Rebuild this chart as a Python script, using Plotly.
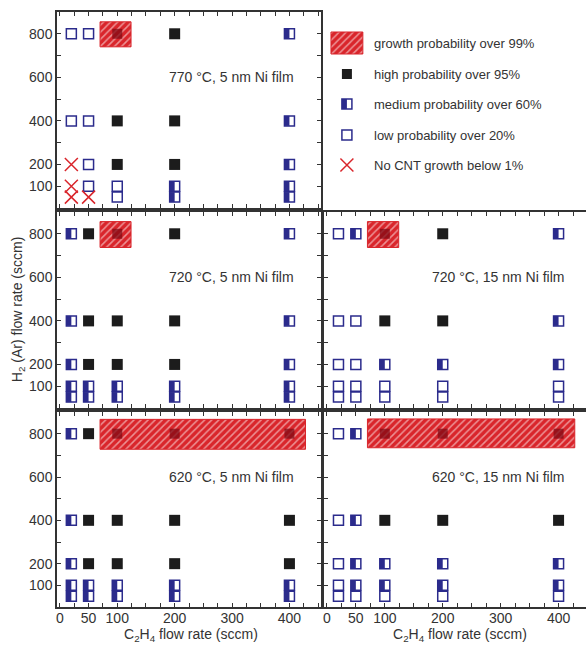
import plotly.graph_objects as go

# ---------------- data ----------------
X_C2H4 = [20, 50, 100, 200, 400]          # C2H4 flow rate (sccm), grid columns
Y_H2 = [800, 400, 200, 100, 50]           # H2 (Ar) flow rate (sccm), grid rows

# outcome codes: rows follow Y_H2, columns follow X_C2H4
# G = growth >99% (hatched), H = high >95%, M = medium >60%, L = low >20%, N = no CNT growth <1%
grid_770_5nm = ["LLGHM", "LLHHM", "NLHHM", "NLLMM", "NNLMM"]
grid_720_5nm = ["MHGHM", "MHHHM", "MHHHM", "MMMMM", "MMMMM"]
grid_720_15nm = ["LMGHM", "LLHHM", "LLMMM", "LLLLL", "LLLLL"]
grid_620_5nm = ["MHGGG", "MHHHH", "MHHHH", "MMMMM", "MMMMM"]
grid_620_15nm = ["LMGGG", "LMHHH", "LMMMM", "LMMMM", "LLLLL"]

# hatched ">99 %" regions: [x0, x1, y0, y1] in sccm
region_770_5nm = [70, 124, 740, 855]
region_720_5nm = [70, 124, 737, 856]
region_720_15nm = [70, 124, 737, 856]
region_620_5nm = [70, 428, 728, 866]
region_620_15nm = [70, 428, 735, 868]

panel_labels = ["770 °C, 5 nm Ni film", "720 °C, 5 nm Ni film", "720 °C, 15 nm Ni film",
                "620 °C, 5 nm Ni film", "620 °C, 15 nm Ni film"]
legend_labels = ["growth probability over 99%", "high probability over 95%",
                 "medium probability over 60%", "low probability over 20%",
                 "No CNT growth below 1%"]
x_tick_vals = list(range(0, 451, 25))
x_tick_show = [0, 50, 100, 200, 300, 400]
y_tick_vals = list(range(0, 901, 100))
y_tick_show = [100, 200, 400, 600, 800]

# ---------------- styling / layout ----------------
W, H = 593, 645        # page window is 586 wide; the right-most frame edge falls just outside, as in the reference
ML, MR, MT, MB = 57, 0, 12, 38
PW, PH = W - ML - MR, H - MT - MB
FONT = "Liberation Sans, Arial, sans-serif"
TXT = "#333333"
NAVY = "#2b2b8c"
BLACK = "#1c1c1c"
RED = "#d9252b"
DARKRED = "rgba(130,10,20,0.75)"
MS = 10


def px_x(p):
    return (p - ML) / PW


def px_y(p):
    return (H - MB - p) / PH


panels = [
    dict(grid=grid_770_5nm, region=region_770_5nm, xd=[57, 322], yd=[12, 208], xr=[-5, 455], yl=True, xl=False),
    dict(grid=grid_720_5nm, region=region_720_5nm, xd=[57, 322], yd=[212, 408], xr=[-5, 455], yl=True, xl=False),
    dict(grid=grid_720_15nm, region=region_720_15nm, xd=[325, 593], yd=[212, 408], xr=[-5, 456], yl=False, xl=False),
    dict(grid=grid_620_5nm, region=region_620_5nm, xd=[57, 322], yd=[412, 607], xr=[-5, 455], yl=True, xl=True),
    dict(grid=grid_620_15nm, region=region_620_15nm, xd=[325, 593], yd=[412, 607], xr=[-5, 456], yl=False, xl=True),
]
YR = [0, 900]

fig = go.Figure()
shapes = []
annotations = []
layout = {}

for i, p in enumerate(panels, start=1):
    xa, ya = f"x{i}" if i > 1 else "x", f"y{i}" if i > 1 else "y"
    xr = p["xr"]
    # growth region (hatched)
    x0, x1, y0, y1 = p["region"]
    fig.add_trace(go.Bar(
        x=[(x0 + x1) / 2], y=[y1 - y0], base=[y0], width=[x1 - x0],
        marker=dict(color=RED, line=dict(color=RED, width=1),
                    pattern=dict(shape="/", fgcolor="white", size=5, solidity=0.3)),
        xaxis=xa, yaxis=ya, showlegend=False, hoverinfo="skip"))
    cats = {c: ([], []) for c in "GHMLN"}
    for r, yv in enumerate(Y_H2):
        for c, xv in enumerate(X_C2H4):
            code = p["grid"][r][c]
            cats[code][0].append(xv)
            cats[code][1].append(yv)
    fig.add_trace(go.Scatter(x=cats["G"][0], y=cats["G"][1], mode="markers", xaxis=xa, yaxis=ya,
                             marker=dict(symbol="square", size=MS, color=DARKRED), showlegend=False))
    fig.add_trace(go.Scatter(x=cats["H"][0], y=cats["H"][1], mode="markers", xaxis=xa, yaxis=ya,
                             marker=dict(symbol="square", size=MS + 1, color=BLACK), showlegend=False))
    fig.add_trace(go.Scatter(x=cats["M"][0] + cats["L"][0], y=cats["M"][1] + cats["L"][1], mode="markers",
                             xaxis=xa, yaxis=ya,
                             marker=dict(symbol="square-open", size=MS, color=NAVY, line=dict(width=1.5)),
                             showlegend=False))
    fig.add_trace(go.Scatter(x=cats["N"][0], y=cats["N"][1], mode="markers", xaxis=xa, yaxis=ya,
                             marker=dict(symbol="x-thin", size=MS + 3, color=RED, line=dict(color=RED, width=1.5)),
                             showlegend=False))
    # left-half fill of the medium markers
    hw = (MS / 2) * (xr[1] - xr[0]) / (p["xd"][1] - p["xd"][0])
    hh = (MS / 2) * (YR[1] - YR[0]) / (p["yd"][1] - p["yd"][0])
    for xv, yv in zip(*cats["M"]):
        shapes.append(dict(type="rect", xref=xa, yref=ya, x0=xv - hw, x1=xv, y0=yv - hh, y1=yv + hh,
                           fillcolor=NAVY, line=dict(width=0), layer="above"))
    annotations.append(dict(text=panel_labels[i - 1], xref=xa, yref=ya, x=412, y=600,
                            xanchor="right", yanchor="middle", showarrow=False,
                            font=dict(family=FONT, size=14, color=TXT)))
    axcommon = dict(showline=True, linecolor=TXT, linewidth=1.5, mirror="allticks", ticks="inside",
                    ticklen=4, tickwidth=1, tickcolor=TXT, showgrid=False, zeroline=False,
                    tickfont=dict(family=FONT, size=14, color=TXT))
    layout["xaxis" if i == 1 else f"xaxis{i}"] = dict(
        axcommon, domain=[px_x(p["xd"][0]), px_x(p["xd"][1])], range=xr, anchor=ya,
        tickmode="array", tickvals=x_tick_vals,
        ticktext=[str(v) if v in x_tick_show else "" for v in x_tick_vals],
        showticklabels=p["xl"], ticklabelstandoff=-3)
    layout["yaxis" if i == 1 else f"yaxis{i}"] = dict(
        axcommon, domain=[px_y(p["yd"][1]), px_y(p["yd"][0])], range=YR, anchor=xa,
        tickmode="array", tickvals=y_tick_vals,
        ticktext=[str(v) if v in y_tick_show else "" for v in y_tick_vals],
        showticklabels=p["yl"])

# ---------------- manual legend (top-right cell) ----------------
LX = [325, 593]
LY = [208, 12]
layout["xaxis6"] = dict(domain=[px_x(LX[0]), px_x(LX[1])], range=LX, visible=False, anchor="y6")
layout["yaxis6"] = dict(domain=[px_y(LY[0]), px_y(LY[1])], range=LY, visible=False, anchor="x6")
leg_rows = [43, 74, 104, 135, 165]
sym_x = 348
fig.add_trace(go.Bar(x=[sym_x], y=[22], base=[leg_rows[0] - 11], width=[32],
                     marker=dict(color=RED, line=dict(color=RED, width=1),
                                 pattern=dict(shape="/", fgcolor="white", size=5, solidity=0.3)),
                     xaxis="x6", yaxis="y6", showlegend=False, hoverinfo="skip"))
fig.add_trace(go.Scatter(x=[sym_x], y=[leg_rows[1]], mode="markers", xaxis="x6", yaxis="y6",
                         marker=dict(symbol="square", size=MS, color=BLACK), showlegend=False))
fig.add_trace(go.Scatter(x=[sym_x, sym_x], y=[leg_rows[2], leg_rows[3]], mode="markers", xaxis="x6", yaxis="y6",
                         marker=dict(symbol="square-open", size=MS, color=NAVY, line=dict(width=1.5)),
                         showlegend=False))
shapes.append(dict(type="rect", xref="x6", yref="y6", x0=sym_x - 5, x1=sym_x, y0=leg_rows[2] - 5,
                   y1=leg_rows[2] + 5, fillcolor=NAVY, line=dict(width=0), layer="above"))
fig.add_trace(go.Scatter(x=[sym_x], y=[leg_rows[4]], mode="markers", xaxis="x6", yaxis="y6",
                         marker=dict(symbol="x-thin", size=MS + 3, color=RED, line=dict(color=RED, width=1.5)),
                         showlegend=False))
for lbl, yv in zip(legend_labels, leg_rows):
    annotations.append(dict(text=lbl, xref="x6", yref="y6", x=373, y=yv, xanchor="left", yanchor="middle",
                            showarrow=False, font=dict(family=FONT, size=13, color=TXT)))

# axis titles
annotations.append(dict(text="H<sub>2</sub> (Ar) flow rate (sccm)", xref="paper", yref="paper",
                        x=px_x(18), y=px_y(310), textangle=-90, showarrow=False,
                        xanchor="center", yanchor="middle", font=dict(family=FONT, size=14, color=TXT)))
for xc in [(57 + 322) / 2 + 2, 462]:
    annotations.append(dict(text="C<sub>2</sub>H<sub>4</sub> flow rate (sccm)", xref="paper", yref="paper",
                            x=px_x(xc), y=px_y(635), showarrow=False, xanchor="center", yanchor="middle",
                            font=dict(family=FONT, size=14, color=TXT)))

fig.update_layout(width=W, height=H, margin=dict(l=ML, r=MR, t=MT, b=MB),
                  paper_bgcolor="white", plot_bgcolor="white", barmode="overlay",
                  shapes=shapes, annotations=annotations, **layout)
fig.write_html("out.html", config={"displayModeBar": False},
               post_script="document.body.style.margin='0';document.body.style.overflow='hidden';")
